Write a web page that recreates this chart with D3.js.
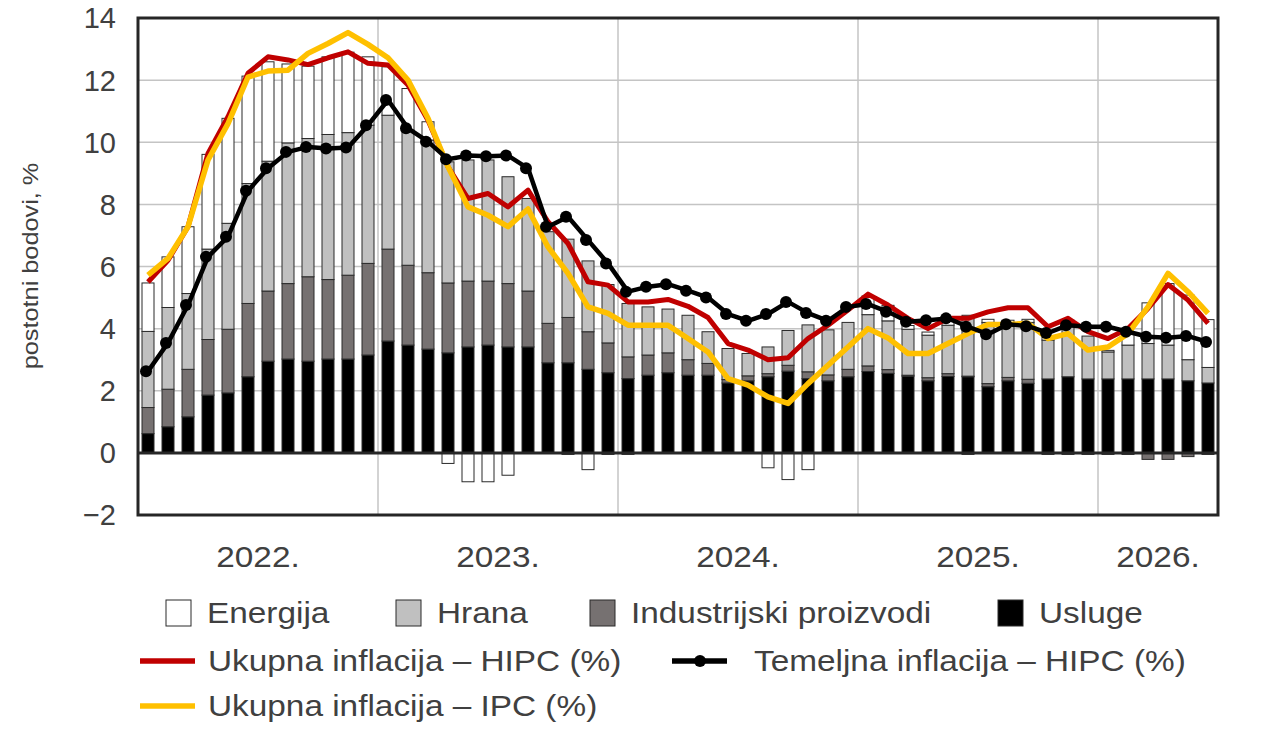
<!DOCTYPE html>
<html>
<head>
<meta charset="UTF-8">
<script src="https://d3js.org/d3.v7.min.js"></script>
<style>
  body { margin: 0; background: #fff; }
  text { font-family: "Liberation Sans", Arial, sans-serif; fill: #404040; }
</style>
</head>
<body>
<svg class="chart"></svg>
<script>

// godine na osi i broj mjeseci po godini
var years = ["2022.", "2023.", "2024.", "2025.", "2026."];
var monthsPerYear = [12, 12, 12, 12, 6];

// doprinosi (postotni bodovi), sijecanj 2022. - lipanj 2026.
var usluge = [0.62, 0.84, 1.16, 1.86, 1.93, 2.45, 2.95, 3.02, 2.95, 3.02, 3.02, 3.15,
              3.60, 3.47, 3.34, 3.22, 3.41, 3.47, 3.41, 3.41, 2.90, 2.90, 2.69, 2.58,
              2.39, 2.50, 2.58, 2.50, 2.50, 2.25, 2.32, 2.45, 2.63, 2.39, 2.32, 2.45,
              2.62, 2.56, 2.47, 2.32, 2.46, 2.45, 2.13, 2.32, 2.24, 2.38, 2.45, 2.38,
              2.38, 2.38, 2.38, 2.38, 2.32, 2.25];
var industrija = [0.84, 1.21, 1.53, 1.79, 2.05, 2.36, 2.26, 2.43, 2.72, 2.56, 2.70, 2.95,
                  2.96, 2.57, 2.46, 2.25, 2.12, 2.06, 2.04, 1.80, 1.27, 1.46, 1.21, 0.96,
                  0.70, 0.65, 0.64, 0.50, 0.38, 0.11, 0.16, 0.10, 0.19, 0.22, 0.19, 0.24,
                  0.18, 0.12, 0.03, 0.10, 0.09, 0.02, 0.10, 0.11, 0.13, -0.05, -0.05, -0.05,
                  -0.05, -0.05, -0.21, -0.21, -0.12, -0.05];
var hrana = [2.45, 2.63, 2.44, 2.91, 3.41, 3.86, 4.18, 4.53, 4.45, 4.67, 4.59, 4.45,
             4.31, 4.35, 4.27, 3.90, 3.90, 3.90, 3.44, 2.98, 2.95, 2.52, 2.28, 1.88,
             1.72, 1.55, 1.41, 1.43, 1.02, 1.00, 0.72, 0.86, 1.12, 1.51, 1.45, 1.51,
             1.65, 1.57, 1.48, 1.37, 1.56, 1.96, 1.97, 1.74, 1.83, 1.25, 1.82, 1.38,
             0.87, 1.09, 1.14, 1.09, 0.68, 0.50];
var energija = [1.56, 1.63, 2.15, 3.05, 3.38, 3.46, 3.20, 2.54, 2.33, 2.50, 2.59, 2.20,
                1.56, 1.34, 0.59, -0.34, -0.93, -0.93, -0.72, 0.00, 0.00, -0.05, -0.54, -0.05,
                -0.05, 0.00, 0.00, 0.00, 0.00, 0.00, 0.00, -0.48, -0.86, -0.54, 0.00, 0.00,
                0.60, 0.50, 0.12, 0.10, 0.20, -0.05, 0.10, 0.10, 0.10, 0.10, 0.00, 0.00,
                0.05, 0.43, 1.31, 1.98, 2.08, 1.54];

// stope inflacije (%)
var hipc = [5.50, 6.20, 7.28, 9.64, 10.82, 12.22, 12.75, 12.65, 12.50, 12.72, 12.91, 12.54,
            12.49, 11.84, 10.71, 9.21, 8.19, 8.35, 7.92, 8.46, 7.44, 6.74, 5.51, 5.40,
            4.86, 4.86, 4.94, 4.72, 4.36, 3.52, 3.31, 3.00, 3.06, 3.68, 4.11, 4.60,
            5.11, 4.76, 4.33, 4.00, 4.33, 4.33, 4.54, 4.67, 4.67, 4.06, 4.33, 3.90,
            3.68, 4.00, 4.65, 5.42, 4.92, 4.17];
var ipc = [5.72, 6.26, 7.28, 9.43, 10.60, 12.10, 12.29, 12.32, 12.86, 13.18, 13.53, 13.15,
           12.72, 12.00, 10.77, 9.21, 7.92, 7.65, 7.28, 7.85, 6.63, 5.78, 4.70, 4.49,
           4.11, 4.11, 4.11, 3.68, 3.25, 2.39, 2.18, 1.80, 1.59, 2.23, 2.82, 3.41,
           4.00, 3.70, 3.20, 3.20, 3.52, 3.84, 4.13, 4.13, 4.17, 3.68, 3.84, 3.31,
           3.41, 3.84, 4.70, 5.78, 5.19, 4.49];
var temeljna = [2.63, 3.54, 4.76, 6.31, 6.96, 8.44, 9.16, 9.69, 9.85, 9.80, 9.83, 10.55,
                11.36, 10.45, 10.02, 9.45, 9.57, 9.55, 9.57, 9.16, 7.28, 7.60, 6.85, 6.10,
                5.19, 5.35, 5.43, 5.22, 5.00, 4.47, 4.25, 4.47, 4.86, 4.50, 4.25, 4.70,
                4.79, 4.54, 4.22, 4.27, 4.33, 4.06, 3.82, 4.14, 4.08, 3.86, 4.11, 4.06,
                4.06, 3.90, 3.74, 3.71, 3.76, 3.57];

var yTicks = [-2, 0, 2, 4, 6, 8, 10, 12, 14];

var keys = ["usluge", "industrija", "hrana", "energija"];
var colors = {energija: "#ffffff", hrana: "#c0c0c0", industrija: "#767171", usluge: "#000000"};

var width = 1264, height = 733;
var margin = {left: 138, right: 46, top: 18, bottom: 218};
var stretch = 1.15; // tekst u predlosku je sirok

var months = [];
years.forEach(function(y, i) {
  d3.range(monthsPerYear[i]).forEach(function(m) { months.push(y + (m + 1)); });
});

var table = months.map(function(m, i) {
  return {month: m, usluge: usluge[i], industrija: industrija[i], hrana: hrana[i],
          energija: energija[i], hipc: hipc[i], ipc: ipc[i], temeljna: temeljna[i]};
});

var x = d3.scaleBand()
  .domain(months)
  .range([margin.left, width - margin.right])
  .paddingInner(0.4)
  .paddingOuter(0.2);

var y = d3.scaleLinear()
  .domain([-2, 14])
  .range([height - margin.bottom, margin.top]);

var cx = function(d) { return x(d.month) + x.bandwidth() / 2; };
var gap = (x.step() - x.bandwidth()) / 2;

var chart = d3.select(".chart")
  .attr("width", width)
  .attr("height", height);

// mreza
chart.append("g")
  .selectAll("line")
  .data(yTicks)
  .enter().append("line")
  .attr("x1", margin.left).attr("x2", width - margin.right)
  .attr("y1", function(d) { return y(d); })
  .attr("y2", function(d) { return y(d); })
  .attr("stroke", "#c4c4c4").attr("stroke-width", 1.5);

var yearStarts = [];
var idx = 0;
years.forEach(function(yr, i) {
  yearStarts.push({label: yr, first: months[idx], last: months[idx + monthsPerYear[i] - 1]});
  idx += monthsPerYear[i];
});

chart.append("g")
  .selectAll("line")
  .data(yearStarts.slice(1))
  .enter().append("line")
  .attr("x1", function(d) { return x(d.first) - gap; })
  .attr("x2", function(d) { return x(d.first) - gap; })
  .attr("y1", margin.top).attr("y2", height - margin.bottom)
  .attr("stroke", "#c4c4c4").attr("stroke-width", 1.5);

// stupci
var series = d3.stack()
  .keys(keys)
  .offset(d3.stackOffsetDiverging)(table);

chart.append("g")
  .selectAll("g")
  .data(series)
  .enter().append("g")
  .attr("fill", function(s) { return colors[s.key]; })
  .selectAll("rect")
  .data(function(s) { return s; })
  .enter().append("rect")
  .attr("x", function(d) { return x(d.data.month); })
  .attr("width", x.bandwidth())
  .attr("y", function(d) { return y(Math.max(d[0], d[1])); })
  .attr("height", function(d) { return Math.abs(y(d[0]) - y(d[1])); })
  .attr("stroke", "#2a2a2a")
  .attr("stroke-width", function(d) { return Math.abs(d[1] - d[0]) > 0.001 ? 1 : 0; });

// nulta linija
chart.append("line")
  .attr("x1", margin.left).attr("x2", width - margin.right)
  .attr("y1", y(0)).attr("y2", y(0))
  .attr("stroke", "#262626").attr("stroke-width", 3);

// linije
function drawLine(key, color, w) {
  chart.append("path")
    .datum(table)
    .attr("fill", "none")
    .attr("stroke", color)
    .attr("stroke-width", w)
    .attr("stroke-linejoin", "round")
    .attr("d", d3.line().x(cx).y(function(d) { return y(d[key]); }));
}
drawLine("hipc", "#c00000", 5);
drawLine("ipc", "#ffc000", 5.5);
drawLine("temeljna", "#000000", 4.5);

chart.append("g")
  .selectAll("circle")
  .data(table)
  .enter().append("circle")
  .attr("cx", function(d) { return cx(d) - 2; })
  .attr("cy", function(d) { return y(d.temeljna); })
  .attr("r", 6)
  .attr("fill", "#000");

// okvir
chart.append("rect")
  .attr("x", margin.left).attr("y", margin.top)
  .attr("width", width - margin.left - margin.right)
  .attr("height", height - margin.top - margin.bottom)
  .attr("fill", "none")
  .attr("stroke", "#262626").attr("stroke-width", 3);

// tekst rastegnut vodoravno
function wideText(sel, fx, fy, size, anchor) {
  return sel.append("text")
    .attr("transform", function(d) { return "translate(" + fx(d) + "," + fy(d) + ") scale(" + stretch + ",1)"; })
    .attr("dy", "0.36em")
    .attr("text-anchor", anchor || "start")
    .style("font-size", size + "px");
}

// os y
chart.append("g")
  .selectAll("text")
  .data(yTicks)
  .enter().append("text")
  .attr("x", 116)
  .attr("y", function(d) { return y(d); })
  .attr("dy", "0.36em")
  .attr("text-anchor", "end")
  .style("font-size", "29px")
  .text(function(d) { return d < 0 ? "\u2212" + Math.abs(d) : d; });

chart.append("text")
  .attr("transform", "translate(38," + 266 + ") rotate(-90) scale(" + stretch + ",1)")
  .attr("text-anchor", "middle")
  .style("font-size", "22px")
  .text("postotni bodovi, %");

// os x
wideText(chart.append("g").selectAll("g").data(yearStarts).enter().append("g"),
  function(d) { return (x(d.first) - gap + x(d.last) + x.bandwidth() + gap) / 2; },
  function() { return 557; }, 29, "middle")
  .text(function(d) { return d.label; });

// legenda
var boxes = [
  {key: "energija", label: "Energija", x: 166},
  {key: "hrana", label: "Hrana", x: 396},
  {key: "industrija", label: "Industrijski proizvodi", x: 590},
  {key: "usluge", label: "Usluge", x: 998}
];
var leg = chart.append("g");
var bg = leg.selectAll("g.box")
  .data(boxes)
  .enter().append("g");
bg.append("rect")
  .attr("x", function(d) { return d.x; })
  .attr("y", 600)
  .attr("width", 25).attr("height", 26)
  .attr("fill", function(d) { return colors[d.key]; })
  .attr("stroke", "#2a2a2a").attr("stroke-width", 1);
wideText(bg, function(d) { return d.x + 41; }, function() { return 613; }, 29)
  .text(function(d) { return d.label; });

var lines = [
  {label: "Ukupna inflacija \u2013 HIPC (%)", color: "#c00000", x: 140, y: 661, dot: false},
  {label: "Temeljna inflacija \u2013 HIPC (%)", color: "#000000", x: 672, y: 661, dot: true},
  {label: "Ukupna inflacija \u2013 IPC (%)", color: "#ffc000", x: 140, y: 706, dot: false}
];
var lg = leg.selectAll("g.line")
  .data(lines)
  .enter().append("g");
lg.append("line")
  .attr("x1", function(d) { return d.x; })
  .attr("x2", function(d) { return d.x + 55; })
  .attr("y1", function(d) { return d.y; })
  .attr("y2", function(d) { return d.y; })
  .attr("stroke", function(d) { return d.color; })
  .attr("stroke-width", 5.5);
lg.filter(function(d) { return d.dot; })
  .append("circle")
  .attr("cx", function(d) { return d.x + 28; })
  .attr("cy", function(d) { return d.y; })
  .attr("r", 6);
wideText(lg, function(d) { return d.x + (d.dot ? 82 : 68); }, function(d) { return d.y; }, 29)
  .text(function(d) { return d.label; });

</script>
</body>
</html>
